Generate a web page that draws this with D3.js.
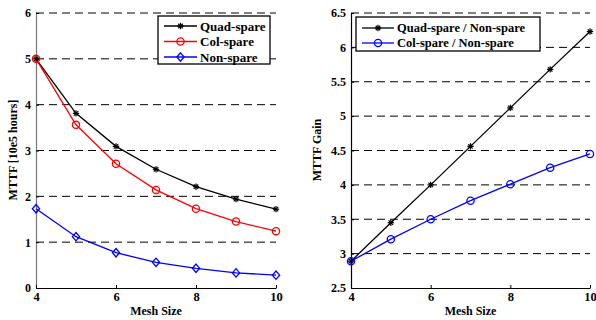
<!DOCTYPE html>
<html><head><meta charset="utf-8">
<script src="https://cdn.jsdelivr.net/npm/d3@7"></script>
<style>
body{margin:0;background:#fff;}
text{font-family:"Liberation Serif","Times New Roman",Times,serif;font-weight:bold;}
</style></head>
<body><svg id="c" width="596" height="320"></svg>
<script>
const meshSizes = [4,5,6,7,8,9,10];
const quadSpare = [5.0,3.81,3.09,2.59,2.21,1.94,1.72];
const colSpare  = [5.0,3.56,2.71,2.14,1.73,1.45,1.24];
const nonSpare  = [1.73,1.12,0.77,0.56,0.43,0.33,0.28];
const quadGain  = [2.89,3.45,4.00,4.56,5.12,5.68,6.23];
const colGain   = [2.89,3.21,3.50,3.77,4.01,4.25,4.45];
const xTicks = [4,6,8,10];
const xLabels = ["4","6","8","10"];
const leftYTicks = [0,1,2,3,4,5,6];
const rightYTicks = [2.5,3,3.5,4,4.5,5,5.5,6,6.5];
const rightYLabels = ["2.5","3","3.5","4","4.5","5","5.5","6","6.5"];

const svg = d3.select("#c");

function star(g, x, y, r, color){
  const s = g.append("g").attr("transform",`translate(${x},${y})`).attr("stroke",color).attr("stroke-width",1.2);
  [[-r,0,r,0],[0,-r,0,r],[-r*0.7,-r*0.7,r*0.7,r*0.7],[-r*0.7,r*0.7,r*0.7,-r*0.7]].forEach(l=>{
    s.append("line").attr("x1",l[0]).attr("y1",l[1]).attr("x2",l[2]).attr("y2",l[3]);
  });
}
function marker(g, type, x, y, color){
  if(type==="star") star(g,x,y,3.2,color);
  else if(type==="circle") g.append("circle").attr("cx",x).attr("cy",y).attr("r",3.6).attr("fill","none").attr("stroke",color).attr("stroke-width",1.3);
  else if(type==="diamond") g.append("path").attr("d",`M${x},${y-4.2}L${x+3.6},${y}L${x},${y+4.2}L${x-3.6},${y}Z`).attr("fill","none").attr("stroke",color).attr("stroke-width",1.3);
}

function panel(opt){
  const g = svg.append("g");
  const x = d3.scaleLinear().domain([4,10]).range([opt.x0,opt.x1]);
  const y = d3.scaleLinear().domain(opt.yDomain).range([288,13]);
  g.append("g").selectAll("line").data(opt.yTicks.slice(1)).join("line")
    .attr("x1",opt.x0).attr("x2",opt.x1).attr("y1",d=>y(d)).attr("y2",d=>y(d))
    .attr("stroke","#000").attr("stroke-width",1).attr("stroke-dasharray","8,5");
  const ya = g.append("g").attr("transform",`translate(${opt.x0},0)`)
    .call(d3.axisLeft(y).tickValues(opt.yTicks).tickFormat((d,i)=>opt.yLabels[i]).tickSizeInner(-3).tickSizeOuter(0).tickPadding(5));
  ya.select(".domain").attr("stroke",opt.axisColor).attr("stroke-width",1.2);
  ya.selectAll(".tick line").attr("stroke","#000");
  ya.selectAll("text").attr("font-size",12).attr("fill","#000");
  const xa = g.append("g").attr("transform",`translate(0,288)`)
    .call(d3.axisBottom(x).tickValues(xTicks).tickFormat((d,i)=>xLabels[i]).tickSizeInner(-3).tickSizeOuter(0).tickPadding(5));
  xa.select(".domain").attr("stroke","#000").attr("stroke-width",1.2);
  xa.selectAll("text").attr("font-size",12.5).attr("fill","#000").attr("dy","0.62em");
  g.append("text").attr("x",(opt.x0+opt.x1)/2).attr("y",315).attr("text-anchor","middle").attr("font-size",12).text("Mesh Size");
  g.append("text").attr("transform",`translate(${opt.ylx},150) rotate(-90)`).attr("text-anchor","middle").attr("dy","0.35em").attr("font-size",12).text(opt.ylabel);
  const line = d3.line().x((d,i)=>x(meshSizes[i])).y(d=>y(d));
  opt.series.forEach(s=>{
    g.append("path").attr("d",line(s.values)).attr("fill","none").attr("stroke",s.color).attr("stroke-width",1.3);
  });
  opt.series.forEach(s=>{
    s.values.forEach((v,i)=>marker(g,s.marker,x(meshSizes[i]),y(v),s.color));
  });
  const L = opt.legend;
  g.append("rect").attr("x",L.x).attr("y",L.y).attr("width",L.w).attr("height",L.h).attr("fill","#fff").attr("stroke","#000").attr("stroke-width",1.3);
  opt.series.forEach((s,i)=>{
    const yy = L.y + L.first + i*L.step;
    g.append("line").attr("x1",L.lx0).attr("x2",L.lx1).attr("y1",yy).attr("y2",yy).attr("stroke",s.color).attr("stroke-width",1.3);
    marker(g,s.marker,(L.lx0+L.lx1)/2,yy,s.color);
    g.append("text").attr("x",L.tx).attr("y",yy).attr("dy","0.35em").attr("font-size",L.fs).text(s.name);
  });
}

panel({x0:36,x1:276,yDomain:[0,6],yTicks:leftYTicks,yLabels:leftYTicks.map(String),axisColor:"#777",ylx:13,
  ylabel:"MTTF [10e5 hours]",
  series:[{name:"Quad-spare",values:quadSpare,color:"#000",marker:"star"},
          {name:"Col-spare",values:colSpare,color:"#f00",marker:"circle"},
          {name:"Non-spare",values:nonSpare,color:"#00f",marker:"diamond"}],
  legend:{x:158,y:16,w:112,h:48,first:10,step:15.5,lx0:164,lx1:197,tx:200,fs:13}});

panel({x0:351,x1:590,yDomain:[2.5,6.5],yTicks:rightYTicks,yLabels:rightYLabels,axisColor:"#000",ylx:317,
  ylabel:"MTTF Gain",
  series:[{name:"Quad-spare / Non-spare",values:quadGain,color:"#000",marker:"star"},
          {name:"Col-spare / Non-spare",values:colGain,color:"#00f",marker:"circle"}],
  legend:{x:356,y:17,w:184,h:34,first:11,step:15,lx0:362,lx1:394,tx:397,fs:12.5}});
</script></body></html>
